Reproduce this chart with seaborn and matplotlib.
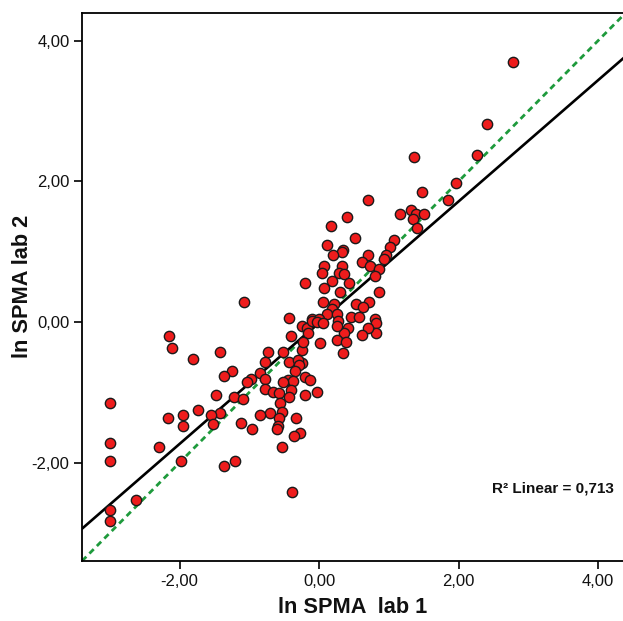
import numpy as np
import pandas as pd
import matplotlib
matplotlib.use("Agg")
import matplotlib.pyplot as plt
import seaborn as sns

# ln SPMA values
lab1 = [2.78, 2.41, 1.36, 2.27, 1.96, 1.48, 1.85, 0.70, 0.40, 0.17,
        1.16, 1.32, 1.39, 1.51, 1.35, 1.41, 0.52, 0.11, 1.08, 1.02,
        0.34, 0.33, 0.20, 0.70, 0.96, 0.93, 0.62, 0.73, 0.07, 0.33,
        0.04, 0.29, 0.36, 0.86, 0.80, -0.20, 0.19, 0.43, 0.07, 0.30,
        0.86, 0.06, 0.22, 0.53, 0.72, 0.63, 0.19, 0.11, 0.26, -0.10,
        0.00, 0.46, 0.57, 0.80, -1.08, -0.43, -0.24, -0.17, -0.16, 0.01,
        -0.10, -0.03, 0.06, 0.27, 0.82, 0.82, 0.70, 0.42, 0.36, 0.62,
        0.26, 0.26, 0.39, 0.34, -0.24, -0.24, -0.20, -0.13, -0.20, -0.03,
        -2.15, -2.11, -0.40, -1.42, -1.81, -0.73, -0.52, -0.23, -0.77, -0.43,
        -0.30, -0.29, -0.34, -1.25, -1.36, -0.85, -0.97, -1.03, -0.77, -0.44,
        -0.37, -0.52, -0.77, -0.66, -0.57, -0.40, -0.43, -1.48, -1.22, -1.09,
        -0.56, -3.00, -1.73, -0.53, -0.70, -0.85, -1.42, -1.55, -1.95, -2.16,
        -0.57, -0.33, -1.52, -1.12, -1.95, -0.96, -0.59, -0.60, -0.27, -0.36,
        -3.00, -2.29, -0.53, -3.00, -1.98, -1.20, -1.36, -0.39, -2.62, -3.00,
        -3.00]
lab2 = [3.70, 2.82, 2.35, 2.38, 1.97, 1.85, 1.73, 1.73, 1.50, 1.37,
        1.54, 1.60, 1.54, 1.54, 1.47, 1.33, 1.20, 1.09, 1.17, 1.07,
        1.03, 0.99, 0.95, 0.95, 0.96, 0.90, 0.86, 0.80, 0.79, 0.80,
        0.70, 0.70, 0.68, 0.76, 0.66, 0.56, 0.59, 0.55, 0.49, 0.42,
        0.42, 0.28, 0.25, 0.25, 0.28, 0.22, 0.19, 0.12, 0.12, 0.04,
        0.04, 0.07, 0.07, 0.04, 0.28, 0.05, -0.06, -0.09, -0.15, -0.30,
        0.01, 0.00, -0.02, 0.02, -0.02, -0.15, -0.09, -0.08, -0.16, -0.19,
        -0.06, -0.26, -0.29, -0.44, -0.40, -0.59, -0.78, -0.83, -1.04, -1.00,
        -0.20, -0.37, -0.20, -0.43, -0.53, -0.43, -0.42, -0.29, -0.57, -0.57,
        -0.54, -0.61, -0.70, -0.70, -0.77, -0.73, -0.81, -0.86, -0.81, -0.83,
        -0.84, -0.86, -0.95, -1.00, -1.01, -0.97, -1.07, -1.04, -1.07, -1.10,
        -1.15, -1.15, -1.25, -1.28, -1.30, -1.32, -1.30, -1.32, -1.32, -1.37,
        -1.37, -1.37, -1.45, -1.44, -1.48, -1.52, -1.48, -1.52, -1.58, -1.62,
        -1.72, -1.78, -1.78, -1.98, -1.98, -1.98, -2.05, -2.42, -2.53, -2.67,
        -2.83]

fit_slope = 0.862
fit_intercept = -0.01
r2_text = "R² Linear = 0,713"

ticks = [-2, 0, 2, 4]
tick_labels = ["-2,00", "0,00", "2,00", "4,00"]

df = pd.DataFrame({"lab1": lab1, "lab2": lab2})

sns.set_style("ticks")
plt.rcParams['font.family'] = ['Liberation Sans', 'DejaVu Sans']

fig = plt.figure(figsize=(6.23, 6.21), dpi=100)
ax = fig.add_axes([0.1316, 0.0966, 0.873, 0.883])

# identity line and fitted line
ax.axline((0, 0), slope=1, color='#1e9a3c', lw=2.0, ls=(0, (2.2, 1.6)), zorder=1)
ax.axline((0, fit_intercept), slope=fit_slope, color='black', lw=1.9, zorder=2)

sns.scatterplot(data=df, x='lab1', y='lab2', ax=ax, s=55, color='#ee1c1c',
                edgecolor='#1a1a1a', linewidth=1.0, zorder=3)

ax.set_xlim(-3.4, 4.4)
ax.set_ylim(-3.4, 4.4)
ax.set_xticks(ticks)
ax.set_xticklabels(tick_labels)
ax.set_yticks(ticks)
ax.set_yticklabels(tick_labels)
ax.tick_params(axis='both', labelsize=12, length=6, width=1.2, pad=3,
               colors='black', labelcolor='#111111')

for side in ['left', 'bottom', 'top']:
    ax.spines[side].set_linewidth(1.3)
    ax.spines[side].set_color('black')
ax.spines['right'].set_visible(False)

ax.set_xlabel('ln SPMA  lab 1', fontsize=15.7, fontweight='bold', color='#111111')
ax.set_ylabel('ln SPMA lab 2', fontsize=15.7, fontweight='bold', color='#111111')
ax.xaxis.set_label_coords(0.497, -0.066)
ax.yaxis.set_label_coords(-0.09, 0.5)

ax.text(0.978, 0.132, r2_text, transform=ax.transAxes, ha='right', va='center',
        fontsize=11, fontweight='bold', color='#111111')

fig.savefig('out.png', dpi=100)
